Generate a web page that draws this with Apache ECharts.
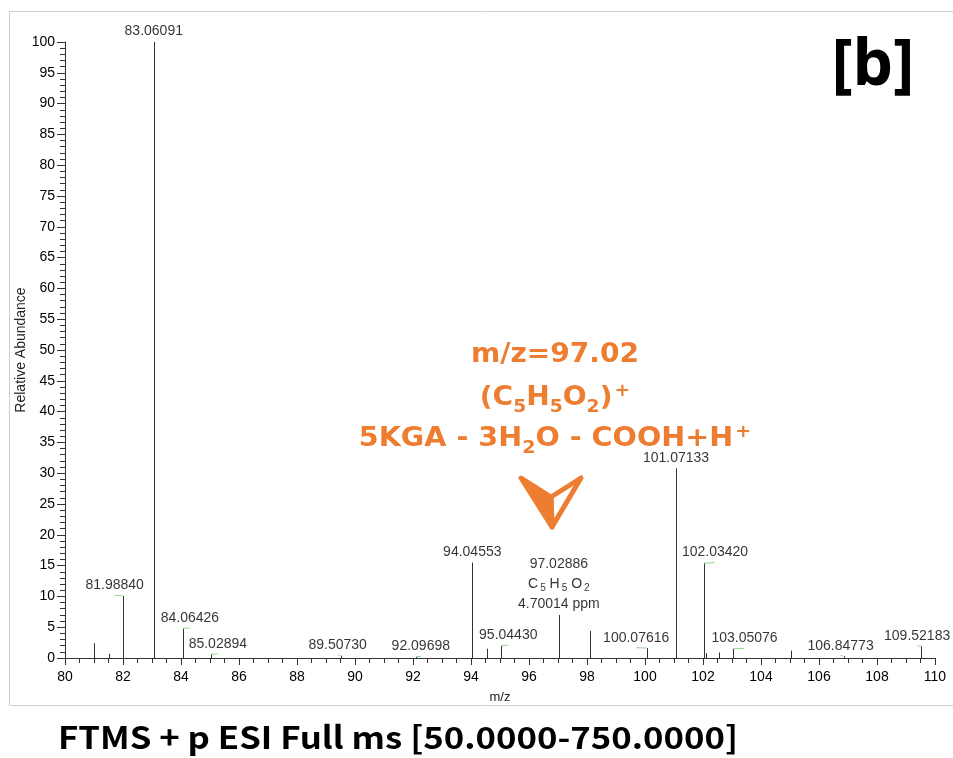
<!DOCTYPE html>
<html>
<head>
<meta charset="utf-8">
<script src="https://cdn.jsdelivr.net/npm/echarts@6/dist/echarts.min.js"></script>
<style>
  html, body { margin: 0; padding: 0; background: #fff; }
  #chart { width: 953px; height: 758px; }
</style>
</head>
<body>
<div id="chart"></div>
<script>
// Centroid peaks of the spectrum: m/z and relative abundance (%)
const peakMz = [81.00, 81.52, 81.98840, 83.06091, 84.06426, 85.02894, 89.50730, 92.09698,
                94.04553, 94.54, 95.04430, 97.02886, 98.10, 100.07616, 101.07133, 102.03420,
                102.10, 102.55, 103.05076, 105.03, 106.84773, 109.52183];
const peakAbundance = [2.4, 0.7, 10.1, 100, 4.8, 0.6, 0.4, 0.2,
                       15.5, 1.5, 2.0, 7.0, 4.4, 1.6, 30.8, 15.4,
                       0.8, 0.9, 1.5, 1.2, 0.3, 1.9];

// Peaks that carry an m/z annotation
const labelledMz = [81.98840, 83.06091, 84.06426, 85.02894, 89.50730, 92.09698, 94.04553,
                    95.04430, 97.02886, 100.07616, 101.07133, 102.03420, 103.05076,
                    106.84773, 109.52183];
// Extra annotation lines (formula and mass error) for the identified ion
const identifiedMz = 97.02886;
const identifiedFormula = '{n|C}{s|5} {n|H}{s|5} {n|O}{s|2}';
const identifiedError = '4.70014 ppm';

// Axis ranges / tick steps
const xRange = [80, 110];
const xStep = 2;
const yRange = [0, 100];
const yStep = 5;

// Label nudges (pixels) so neighbouring annotations stay readable
const labelShift = {
  81.98840: [-8, 0], 84.06426: [7, 0], 85.02894: [7, 0], 89.50730: [-3, 0],
  92.09698: [5, 0], 95.04430: [7, 0], 100.07616: [-11, 0], 102.03420: [11, 0],
  103.05076: [11, 0], 106.84773: [-3, 0], 109.52183: [-4, 0]
};

const FONT = '"Liberation Sans", Arial, sans-serif';
const ORANGE = '#ED7D31';
const ANNO_FONT = '"DejaVu Sans", sans-serif';

const sticks = peakMz.map((m, i) => [m, peakAbundance[i]]);
const labelPoints = labelledMz.map(m => [m, peakAbundance[peakMz.indexOf(m)]]);

const chart = echarts.init(document.getElementById('chart'), null, { renderer: 'canvas' });

const annoRich = {
  t: { fontFamily: ANNO_FONT, fontWeight: 'bold', fontSize: 27, fill: ORANGE, lineHeight: 40, verticalAlign: 'middle' },
  b: { fontFamily: ANNO_FONT, fontWeight: 'bold', fontSize: 18, fill: ORANGE, lineHeight: 40, verticalAlign: 'bottom', padding: [0, 0, 2, 0] },
  p: { fontFamily: ANNO_FONT, fontWeight: 'bold', fontSize: 18, fill: ORANGE, lineHeight: 40, verticalAlign: 'top', padding: [4, 0, 0, 2] }
};

const option = {
  animation: false,
  backgroundColor: '#fff',
  grid: { left: 65, right: 18, top: 42, bottom: 100 },
  xAxis: {
    type: 'value',
    min: xRange[0], max: xRange[1], interval: xStep,
    name: 'm/z', nameLocation: 'middle', nameGap: 33, nameMoveOverlap: false,
    nameTextStyle: { fontFamily: FONT, fontSize: 13, color: '#222' },
    axisLine: { show: true, onZero: false, lineStyle: { color: '#333', width: 1 } },
    axisTick: { show: true, length: 7, lineStyle: { color: '#333' } },
    minorTick: { show: true, splitNumber: 4, length: 5, lineStyle: { color: '#333' } },
    axisLabel: { fontFamily: FONT, fontSize: 14, color: '#000', margin: 12 },
    splitLine: { show: false }
  },
  yAxis: {
    type: 'value',
    min: yRange[0], max: yRange[1], interval: yStep,
    name: 'Relative Abundance', nameLocation: 'middle', nameGap: 37, nameRotate: 90, nameMoveOverlap: false,
    nameTextStyle: { fontFamily: FONT, fontSize: 14, color: '#222' },
    axisLine: { show: true, lineStyle: { color: '#333', width: 1 } },
    axisTick: { show: true, length: 8, lineStyle: { color: '#333' } },
    minorTick: { show: true, splitNumber: 5, length: 5, lineStyle: { color: '#333' } },
    axisLabel: { fontFamily: FONT, fontSize: 14, color: '#000', margin: 10 },
    splitLine: { show: false }
  },
  series: [
    {
      // spectrum sticks
      type: 'custom',
      data: sticks,
      encode: { x: 0, y: 1 },
      renderItem: function (params, api) {
        const base = api.coord([api.value(0), 0]);
        const top = api.coord([api.value(0), api.value(1)]);
        const x = Math.round(base[0]) + 0.5;
        return {
          type: 'line',
          shape: { x1: x, y1: base[1], x2: x, y2: top[1] },
          style: { stroke: '#333', lineWidth: 1 }
        };
      },
      z: 2
    },
    {
      // m/z annotations above the peaks
      type: 'scatter',
      data: labelPoints,
      symbolSize: 1,
      itemStyle: { color: 'rgba(0,0,0,0)' },
      label: {
        show: true,
        position: 'top',
        distance: 0,
        fontFamily: FONT,
        fontSize: 14,
        color: '#000',
        lineHeight: 20,
        formatter: function (p) {
          const m = p.value[0];
          const txt = m.toFixed(5);
          if (m === identifiedMz) {
            return txt + '\n' + identifiedFormula + '\n' + identifiedError;
          }
          return txt;
        },
        rich: {
          n: { fontFamily: FONT, fontSize: 14, color: '#000', lineHeight: 20 },
          s: { fontFamily: FONT, fontSize: 10, color: '#000', lineHeight: 20, verticalAlign: 'bottom', padding: [0, 0, 1, 2] }
        }
      },
      labelLine: { show: true, lineStyle: { color: '#8fd88f', width: 1 } },
      labelLayout: function (params) {
        const m = labelledMz[params.dataIndex];
        const s = labelShift[m];
        return s ? { dx: s[0], dy: s[1] } : {};
      },
      z: 3
    }
  ],
  graphic: [
    {
      // outer frame
      type: 'rect', silent: true,
      shape: { x: 9.5, y: 11.5, width: 960, height: 694 },
      style: { fill: 'none', stroke: '#cfcfcf', lineWidth: 1 }, z: 0
    },
    {
      type: 'text', x: 873, y: 67,
      style: { text: '[b]', fontFamily: '"Noto Sans", sans-serif', fontWeight: 'bold', fontSize: 64, fill: '#000', align: 'center', verticalAlign: 'middle' }
    },
    {
      type: 'text', x: 555, y: 355, scaleX: 1.04,
      style: {
        text: '{t|m/z=97.02}', align: 'center', verticalAlign: 'middle', rich: annoRich
      }
    },
    {
      type: 'text', x: 555, y: 398, scaleX: 1.04,
      style: {
        text: '{t|(C}{b|5}{t|H}{b|5}{t|O}{b|2}{t|)}{p|+}',
        align: 'center', verticalAlign: 'middle', rich: annoRich
      }
    },
    {
      type: 'text', x: 555, y: 439, scaleX: 1.06,
      style: {
        text: '{t|5KGA - 3H}{b|2}{t|O - COOH+H}{p|+}',
        align: 'center', verticalAlign: 'middle', rich: annoRich
      }
    },
    {
      // pointer arrow: filled left half
      type: 'polygon', silent: true,
      shape: { points: [[521, 478], [551, 497], [552, 527]] },
      style: { fill: ORANGE, stroke: ORANGE, lineWidth: 5, lineJoin: 'round' }
    },
    {
      // pointer arrow: outlined right half
      type: 'polygon', silent: true,
      shape: { points: [[551, 497], [581, 478], [552, 527]] },
      style: { fill: 'none', stroke: ORANGE, lineWidth: 5, lineJoin: 'round' }
    },
    {
      type: 'text', x: 58, y: 737, scaleX: 1.12,
      style: {
        text: 'FTMS + p ESI Full ms [50.0000-750.0000]', verticalAlign: 'middle',
        fontFamily: '"Noto Sans CJK SC", sans-serif', fontWeight: 'bold', fontSize: 31, fill: '#000'
      }
    }
  ]
};

chart.setOption(option);
</script>
</body>
</html>
